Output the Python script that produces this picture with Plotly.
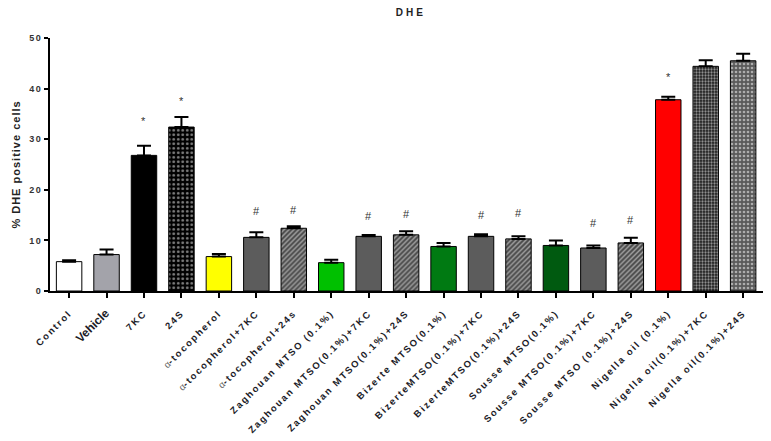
import plotly.graph_objects as go

categories = ["Control", "Vehicle", "7KC", "24S", "α-tocopherol", "α-tocopherol+7KC",
              "α-tocopherol+24s", "Zaghouan MTSO (0.1%)", "Zaghouan MTSO(0.1%)+7KC",
              "Zaghouan MTSO(0.1%)+24S", "Bizerte MTSO(0.1%)", "BizerteMTSO(0.1%)+7KC",
              "BizerteMTSO(0.1%)+24S", "Sousse MTSO(0.1%)", "Sousse MTSO(0.1%)+7KC",
              "Sousse MTSO (0.1%)+24S", "Nigella oil (0.1%)", "Nigella oil(0.1%)+7KC",
              "Nigella oil(0.1%)+24S"]
means = [5.8, 7.2, 26.8, 32.4, 6.8, 10.6, 12.4, 5.6, 10.8, 11.1, 8.8, 10.8, 10.3,
         9.0, 8.5, 9.5, 37.8, 44.4, 45.5]
errs = [0.3, 1.0, 1.9, 2.0, 0.5, 1.0, 0.4, 0.6, 0.25, 0.7, 0.7, 0.4, 0.5,
        1.0, 0.5, 1.0, 0.6, 1.2, 1.4]
sig = ["", "", "*", "*", "", "#", "#", "", "#", "#", "", "#", "#", "", "#", "#", "*", "*", "*"]
sig_y = [None, None, 33.6, 37.6, None, 15.9, 16.1, None, 14.8, 15.3, None, 15.0, 15.4,
         None, 13.4, 14.0, 42.2, 51.6, 52.2]
y_ticks = [0, 10, 20, 30, 40, 50]

bg = ["#ffffff", "#a3a3aa", "#000000", "#000000", "#ffff00", "#5c5c5c", "#4a4a4a",
      "#00c000", "#5c5c5c", "#4a4a4a", "#007a12", "#5c5c5c", "#4a4a4a", "#005a10",
      "#5c5c5c", "#4a4a4a", "#ff0000", "#1e1e1e", "#5a5a5a"]
fg = ["#ffffff", "#a3a3aa", "#000000", "#b0b0b0", "#ffff00", "#5c5c5c", "#262626",
      "#00c000", "#5c5c5c", "#262626", "#007a12", "#5c5c5c", "#262626", "#005a10",
      "#5c5c5c", "#262626", "#ff0000", "#4a4a4a", "#7a7a7a"]
shapes = ["", "", "", ".", "", "", "/", "", "", "/", "", "", "/", "", "", "/", "", ".", "."]
psize = [4, 4, 4, 4.5, 4, 4, 3.5, 4, 4, 3.5, 4, 4, 3.5, 4, 4, 3.5, 4, 3, 4]
psol = [0.3, 0.3, 0.3, 0.3, 0.3, 0.3, 0.4, 0.3, 0.3, 0.4, 0.3, 0.3, 0.4, 0.3, 0.3, 0.4,
        0.3, 0.45, 0.35]

LS = "letter-spacing:1.8px"

def lab(t):
    if t == "Vehicle":
        return '<span style="font-size:12px">Vehicle</span>'
    if t.startswith("α"):
        return '<span style="font-weight:normal;fill:#666">α</span><span style="%s">%s</span>' % (LS, t[1:])
    return '<span style="%s">%s</span>' % (LS, t)

x = list(range(len(categories)))

fig = go.Figure()
fig.add_trace(go.Bar(
    x=x, y=means,
    width=0.68,
    marker=dict(
        color=bg,
        line=dict(color="#000000", width=1),
        pattern=dict(shape=shapes, fgcolor=fg, size=psize, solidity=psol,
                     fillmode="overlay"),
    ),
    error_y=dict(type="data", symmetric=False, array=errs, arrayminus=[0] * len(errs),
                 color="#000000", thickness=2, width=7),
    showlegend=False,
))

for i, (s, yy) in enumerate(zip(sig, sig_y)):
    if s:
        fig.add_annotation(x=i, y=yy, text=s, showarrow=False, xref="x", yref="y",
                           font=dict(size=11, color="#333333", family="Arial"),
                           yanchor="middle")

# the page body adds an 8px offset, so the figure is 8px smaller and margins shifted
fig.update_layout(
    width=763, height=433,
    margin=dict(l=42, r=5, t=30, b=150, autoexpand=False),
    plot_bgcolor="white", paper_bgcolor="white",
    font=dict(family="Liberation Sans, Arial", color="#222222"),
    title=dict(text='<b><span style="letter-spacing:3px">DHE</span></b>',
               x=0.528, xanchor="center", y=0.99, yanchor="middle",
               font=dict(size=10, color="#222222")),
)
fig.update_xaxes(
    range=[-0.51, 18.61], tickmode="array", tickvals=x,
    ticktext=[lab(c) for c in categories],
    tickangle=-45, tickfont=dict(size=9.5, color="#1c1c28", weight="bold"),
    ticklabelstandoff=6,
    showline=True, linecolor="#000000", linewidth=2,
    ticks="outside", ticklen=5, tickwidth=1.5, tickcolor="#000000",
    showgrid=False, zeroline=False, automargin=False,
)
fig.update_yaxes(
    range=[0, 50], tickvals=y_ticks,
    ticktext=['<span style="letter-spacing:1.5px">%d</span>' % v for v in y_ticks],
    tickfont=dict(size=9, color="#333333", weight="bold"),
    showline=True, linecolor="#000000", linewidth=2,
    ticks="outside", ticklen=4, tickwidth=1.5, tickcolor="#000000",
    showgrid=False, zeroline=False, automargin=False,
    title=dict(text='<span style="letter-spacing:1px">% DHE positive cells</span>',
               font=dict(size=11, color="#222222", weight="bold"), standoff=6),
)

fig.write_html("out.html")
